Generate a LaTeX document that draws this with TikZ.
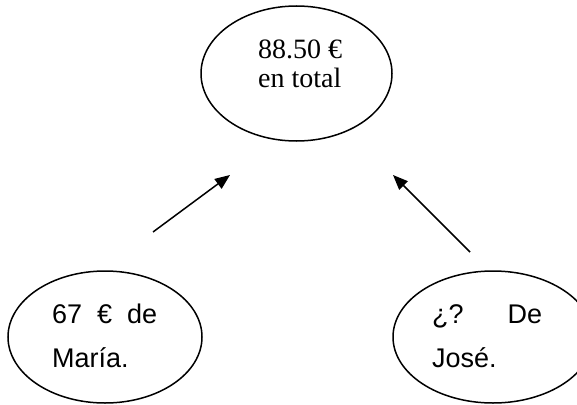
\documentclass[tikz,border=0pt]{standalone}
\usepackage{fontspec}
\setmainfont{Liberation Serif}
\newfontfamily\arialf{Liberation Sans}
\usetikzlibrary{shapes.geometric,arrows.meta}
\begin{document}
\begin{tikzpicture}[x=1pt,y=-1pt,
  oval/.style={draw, ellipse, line width=1.5pt, inner sep=0pt},
  serifTxt/.style={anchor=base west, inner sep=0pt, font=\fontsize{28}{32}\selectfont},
  sansTxt/.style={anchor=base west, inner sep=0pt, font=\arialf\fontsize{27}{31}\selectfont},
  arr/.style={line width=1.5pt, -{Triangle[length=15pt,width=12pt]}}]
\useasboundingbox (0,0) rectangle (577,404);
\begin{scope}
\clip (0,0) rectangle (577,404);
% ellipses
\node[oval, minimum width=191pt, minimum height=135pt] (top) at (296.5,73.5) {};
\node[oval, minimum width=194pt, minimum height=132pt] (maria) at (105,337) {};
\node[oval, minimum width=200pt, minimum height=132pt] (jose) at (493,337) {};
\end{scope}
% texts
\node[serifTxt] (t1) at (258,59) {88.50 €};
\node[serifTxt] (t2) at (258,87) {en total};
\node[sansTxt] (m1) at (52,323) {\makebox[105pt][s]{67 € de}};
\node[sansTxt] (m2) at (52,367) {María.};
\node[sansTxt] (j1) at (432,323) {\makebox[110pt][s]{¿? De}};
\node[sansTxt] (j2) at (432,367) {José.};
% arrows
\coordinate (a1s) at (153,232);
\coordinate (a1e) at (230,175);
\coordinate (a2s) at (470,252);
\coordinate (a2e) at (393,175);
\draw[arr] (a1s) -- (a1e);
\draw[arr] (a2s) -- (a2e);
\end{tikzpicture}
\end{document}
